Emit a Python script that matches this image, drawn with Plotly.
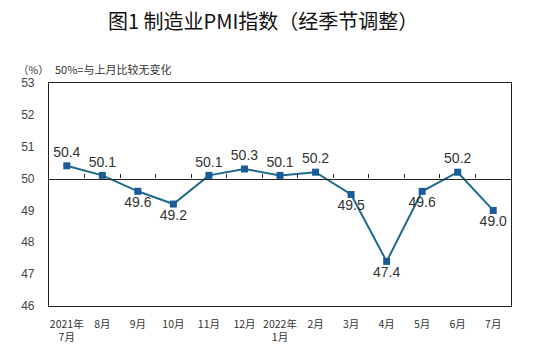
import plotly.graph_objects as go

# Manufacturing PMI, seasonally adjusted, Jul 2021 - Jul 2022
months = ["2021年<br>7月", "8月", "9月", "10月", "11月", "12月", "2022年<br>1月",
          "2月", "3月", "4月", "5月", "6月", "7月"]
pmi = [50.4, 50.1, 49.6, 49.2, 50.1, 50.3, 50.1, 50.2, 49.5, 47.4, 49.6, 50.2, 49.0]
label_pos = ["top center", "top center", "bottom center", "bottom center", "top center",
             "top center", "top center", "top center", "bottom center", "bottom center",
             "bottom center", "top center", "bottom center"]
y_ticks = [46, 47, 48, 49, 50, 51, 52, 53]
y_min, y_max, baseline = 46, 53, 50

W, H = 554, 349
fig = go.Figure()

fig.add_trace(go.Scatter(
    x=months, y=pmi,
    mode="lines+markers+text",
    line=dict(color="#1e6a8d", width=2),
    marker=dict(symbol="square", size=7, color="#1a5c97"),
    text=[f"{v:.1f}" for v in pmi],
    textposition=label_pos,
    textfont=dict(family="Liberation Sans, Arial, sans-serif", size=14, color="#333333"),
    cliponaxis=False,
    showlegend=False,
    hoverinfo="x+y",
))

# invisible companion trace so the crossing axis at 50 has the same categories
fig.add_trace(go.Scatter(
    x=months, y=pmi, xaxis="x2", yaxis="y",
    mode="markers", marker=dict(opacity=0), showlegend=False, hoverinfo="skip",
))

fig.update_layout(
    width=W, height=H, autosize=False,
    margin=dict(l=49, r=43, t=83, b=43, autoexpand=False),
    paper_bgcolor="white", plot_bgcolor="white",
    font=dict(family="Noto Sans CJK SC, Liberation Sans, sans-serif", color="#333333"),
    xaxis=dict(
        type="category", categoryorder="array", categoryarray=months,
        range=[-0.5, len(months) - 0.5], automargin=False,
        showline=True, linecolor="#222222", linewidth=1.2, mirror=True,
        showgrid=False, zeroline=False, ticks="",
        tickfont=dict(family="Noto Sans CJK SC, sans-serif", size=10.5, color="#333333"),
        ticklabelstandoff=8,
    ),
    xaxis2=dict(
        type="category", categoryorder="array", categoryarray=months,
        range=[-0.5, len(months) - 0.5], automargin=False,
        overlaying="x", anchor="free",
        position=(baseline - y_min) / (y_max - y_min),
        showline=True, linecolor="#222222", linewidth=1.2,
        ticks="inside", tickson="boundaries", ticklen=4, tickcolor="#222222",
        showticklabels=False, showgrid=False, zeroline=False,
    ),
    yaxis=dict(
        range=[y_min, y_max], tickvals=y_ticks, automargin=False,
        showline=True, linecolor="#222222", linewidth=1.2, mirror=True,
        showgrid=False, zeroline=False, ticks="",
        tickfont=dict(family="Liberation Sans, Arial, sans-serif", size=12, color="#444444"),
        ticklabelstandoff=11,
    ),
    title=dict(
        text="图1 制造业PMI指数（经季节调整）",
        x=0.475, xanchor="center", y=1 - 22 / H, yanchor="middle",
        font=dict(family="Noto Sans CJK SC", size=20, color="#111111"),
    ),
    annotations=[
        dict(text="（%）", xref="paper", yref="paper", x=(16 - 49) / 462, y=1 + 14 / 223,
             xanchor="left", yanchor="middle", showarrow=False,
             font=dict(family="Noto Sans CJK SC", size=10.5, color="#333333")),
        dict(text="50%=与上月比较无变化", xref="paper", yref="paper", x=(53 - 49) / 462,
             y=1 + 14 / 223, xanchor="left", yanchor="middle", showarrow=False,
             font=dict(family="Noto Sans CJK SC", size=11, color="#333333")),
    ],
)

fig.write_html("out.html")
